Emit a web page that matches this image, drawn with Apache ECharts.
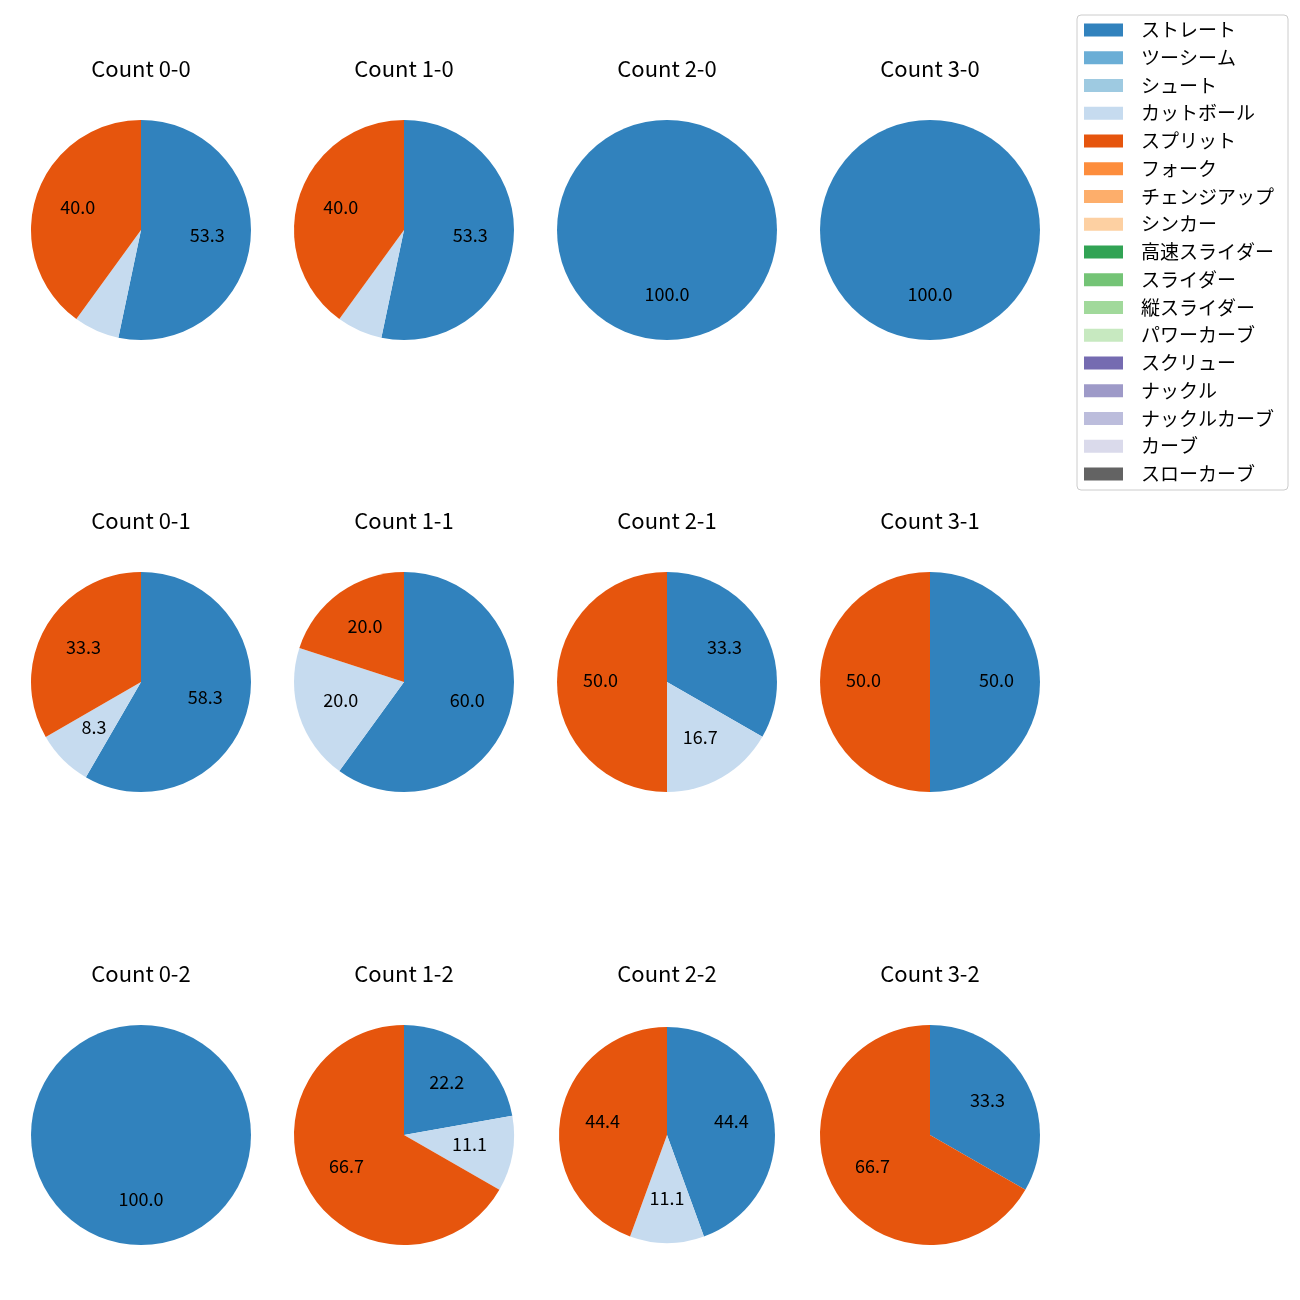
<!DOCTYPE html>
<html><head><meta charset="utf-8">
<script src="https://cdn.jsdelivr.net/npm/echarts@6/dist/echarts.min.js"></script>
<style>html,body{margin:0;padding:0;background:#fff}#c{width:1300px;height:1300px}</style>
</head><body><div id="c"></div>
<script>
// ---- data ----
const categories = ['ストレート','ツーシーム','シュート','カットボール','スプリット','フォーク','チェンジアップ','シンカー','高速スライダー','スライダー','縦スライダー','パワーカーブ','スクリュー','ナックル','ナックルカーブ','カーブ','スローカーブ'];
const categoryColors = ['#3182bd','#6baed6','#9ecae1','#c6dbef','#e6550d','#fd8d3c','#fdae6b','#fdd0a2','#31a354','#74c476','#a1d99b','#c7e9c0','#756bb1','#9e9ac8','#bcbddc','#dadaeb','#636363'];
const countNames = ['Count 0-0','Count 1-0','Count 2-0','Count 3-0','Count 0-1','Count 1-1','Count 2-1','Count 3-1','Count 0-2','Count 1-2','Count 2-2','Count 3-2'];
// pitch types that appear: ストレート, カットボール, スプリット (percent)
const pieCats = ['ストレート','カットボール','スプリット'];
const count00 = [53.3, 6.7, 40.0];
const count10 = [53.3, 6.7, 40.0];
const count20 = [100.0, 0, 0];
const count30 = [100.0, 0, 0];
const count01 = [58.3, 8.3, 33.3];
const count11 = [60.0, 20.0, 20.0];
const count21 = [33.3, 16.7, 50.0];
const count31 = [50.0, 0, 50.0];
const count02 = [100.0, 0, 0];
const count12 = [22.2, 11.1, 66.7];
const count22 = [44.4, 11.1, 44.4];
const count32 = [33.3, 0, 66.7];
const countValues = [count00,count10,count20,count30,count01,count11,count21,count31,count02,count12,count22,count32];

// ---- layout ----
const colX = [141, 404, 667, 930];
const rowY = [230, 682, 1135];
const FONT = '"Noto Sans CJK JP", "Noto Sans", sans-serif';

const series = [];
const labelSeries = [];
const titles = [];
countNames.forEach((name, i) => {
  const col = i % 4, row = Math.floor(i / 4);
  const cx = colX[col], cy = rowY[row];
  const R = (i === 10) ? 108 : 110;
  const vals = countValues[i];
  const data = categories.map((c, j) => {
    const k = pieCats.indexOf(c);
    return { name: c, value: k >= 0 ? vals[k] : 0, itemStyle: { color: categoryColors[j] } };
  });
  titles.push({
    text: name, left: cx, top: rowY[row] - 172, textAlign: 'center', padding: 0,
    textStyle: { fontFamily: FONT, fontSize: 22, fontWeight: 'normal', color: '#000' }
  });
  series.push({
    type: 'pie', center: [cx, cy], radius: [0, R], startAngle: 90, clockwise: true,
    silent: true, animation: false, label: { show: false }, labelLine: { show: false },
    itemStyle: { borderWidth: 0 }, data: data
  });
  labelSeries.push({
    type: 'pie', center: [cx, cy], radius: [R * 0.155, R], startAngle: 90, clockwise: true,
    silent: true, animation: false, legendHoverLink: false,
    itemStyle: { color: 'rgba(0,0,0,0)', borderWidth: 0 },
    label: {
      show: true, position: 'inside', color: '#000', fontFamily: FONT, fontSize: 18,
      offset: [0, -2],
      formatter: p => (p.value >= 7 ? p.value.toFixed(1) : '')
    },
    labelLine: { show: false },
    data: data.map(d => ({ name: d.name, value: d.value, itemStyle: { color: 'rgba(0,0,0,0)' } }))
  });
});

const chart = echarts.init(document.getElementById('c'), null, { renderer: 'canvas' });
chart.setOption({
  animation: false,
  backgroundColor: '#fff',
  title: titles,
  legend: {
    orient: 'vertical', left: 1077, top: 15,
    padding: [5, 14, 6, 7],
    borderColor: '#cccccc', borderWidth: 1, borderRadius: 4,
    itemWidth: 39, itemHeight: 13, itemGap: 7.75,
    icon: 'rect', selectedMode: false,
    textStyle: { fontFamily: FONT, fontSize: 19, lineHeight: 20, color: '#000', padding: [0, 0, 0, 13] },
    data: categories
  },
  series: series.concat(labelSeries)
});
</script>
</body></html>
